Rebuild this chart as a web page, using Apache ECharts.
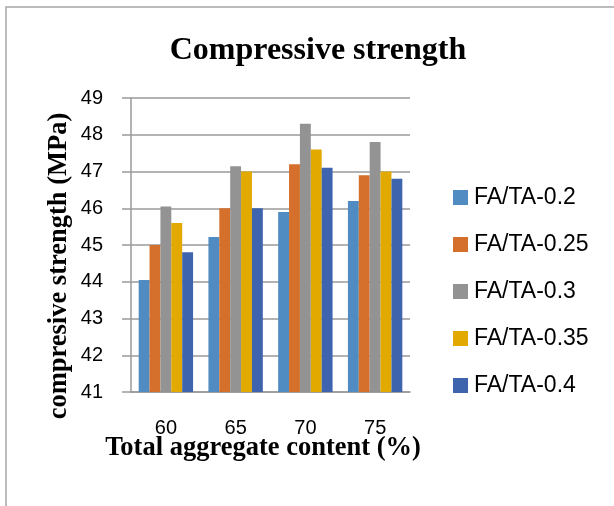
<!DOCTYPE html>
<html>
<head>
<meta charset="utf-8">
<script src="https://cdn.jsdelivr.net/npm/echarts@6/dist/echarts.min.js"></script>
<style>
  html, body { margin: 0; padding: 0; background: #fff; }
  #chart { width: 614px; height: 506px; }
</style>
</head>
<body>
<div id="chart"></div>
<script>
  // aggregate content categories
  const categories = ['60', '65', '70', '75']
  const seriesNames = ['FA/TA-0.2', 'FA/TA-0.25', 'FA/TA-0.3', 'FA/TA-0.35', 'FA/TA-0.4']
  const fa02 = [44.05, 45.22, 45.9, 46.2]
  const fa025 = [45.0, 46.0, 47.2, 46.9]
  const fa03 = [46.05, 47.14, 48.3, 47.8]
  const fa035 = [45.6, 47.0, 47.6, 47.0]
  const fa04 = [44.8, 46.0, 47.1, 46.8]
  const colors = ['#508BC1', '#D46F2C', '#939393', '#E2AA00', '#3F64AE']

  const values = [fa02, fa025, fa03, fa035, fa04]
  const gridColor = '#9a9a9a'

  let myChart = echarts.init(document.getElementById('chart'))
  myChart.setOption({
    animation: false,
    color: colors,
    title: {
      text: 'Compressive strength',
      left: 313,
      textAlign: 'center',
      top: 30,
      textStyle: {
        fontFamily: 'Liberation Serif',
        fontWeight: 'bold',
        fontSize: 32,
        color: '#000'
      }
    },
    legend: {
      orient: 'vertical',
      left: 453,
      top: 186,
      padding: 0,
      itemWidth: 15,
      itemHeight: 15,
      itemGap: 24,
      icon: 'rect',
      data: seriesNames,
      textStyle: {
        fontFamily: 'Liberation Sans',
        fontSize: 23,
        lineHeight: 23,
        color: '#000',
        padding: [0, 0, 0, 1]
      }
    },
    grid: {
      left: 131,
      right: 204,
      top: 98,
      bottom: 114,
      containLabel: false
    },
    xAxis: {
      type: 'category',
      data: categories,
      axisTick: { show: false },
      axisLine: { lineStyle: { color: gridColor, width: 1.5 } },
      axisLabel: {
        margin: 26,
        fontFamily: 'Liberation Sans',
        fontSize: 20,
        color: '#000'
      }
    },
    yAxis: {
      type: 'value',
      min: 41,
      max: 49,
      interval: 1,
      axisLine: { show: true, lineStyle: { color: gridColor, width: 1.5 } },
      axisTick: { show: true, length: 9, lineStyle: { color: gridColor, width: 1.5 } },
      splitLine: { lineStyle: { color: gridColor, width: 1.5 } },
      axisLabel: {
        margin: 28,
        fontFamily: 'Liberation Sans',
        fontSize: 20,
        color: '#000'
      }
    },
    graphic: [
      {
        type: 'polyline',
        shape: { points: [[6, 506], [6, 7], [614, 7]] },
        style: { stroke: '#a6a6a6', lineWidth: 1.5, fill: null }
      },
      {
        type: 'text',
        x: 263,
        y: 448,
        style: {
          text: 'Total aggregate content (%)',
          font: 'bold 26.5px "Liberation Serif"',
          fill: '#000',
          textAlign: 'center',
          textVerticalAlign: 'middle'
        }
      },
      {
        type: 'text',
        x: 59,
        y: 266,
        rotation: Math.PI / 2,
        style: {
          text: 'compresive strength (MPa)',
          font: 'bold 26.5px "Liberation Serif"',
          fill: '#000',
          textAlign: 'center',
          textVerticalAlign: 'middle'
        }
      }
    ],
    series: seriesNames.map((name, i) => ({
      name: name,
      type: 'bar',
      data: values[i],
      barGap: '0%',
      barCategoryGap: '22%'
    }))
  })
</script>
</body>
</html>
